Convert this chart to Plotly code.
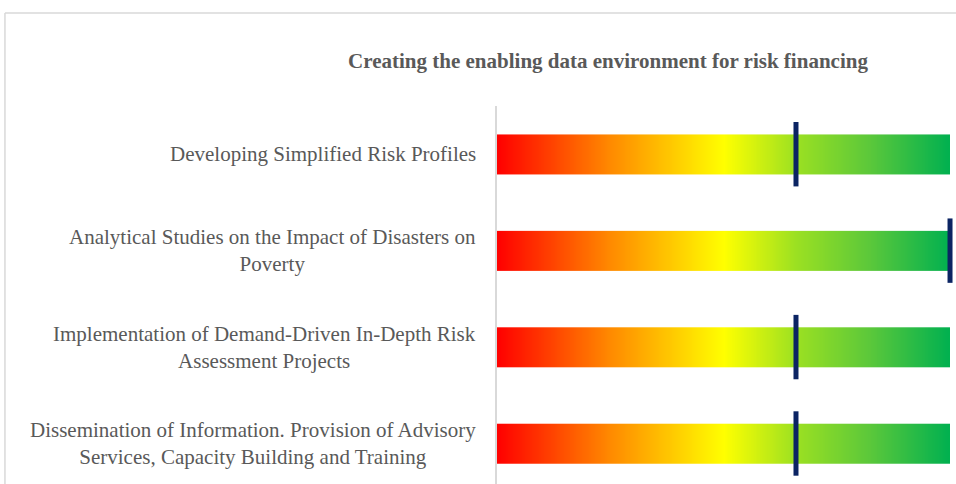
"""
Creating the enabling data environment for risk financing
Horizontal gradient bars (red -> yellow -> green) with a progress marker.
"""

import numpy as np
import plotly.graph_objects as go

# ============================================================================
# DATA
# ============================================================================

categories = [
    "Developing Simplified Risk Profiles",
    "Analytical Studies on the Impact of Disasters on<br>Poverty",
    "Implementation of Demand-Driven In-Depth Risk<br>Assessment Projects",
    "Dissemination of Information. Provision of Advisory<br>Services, Capacity Building and Training",
]
bar_max = [1.0, 1.0, 1.0, 1.0]
scores = [0.66, 1.0, 0.66, 0.66]

# ============================================================================
# STYLE
# ============================================================================

gradient = [
    [0.0, "#FF0000"],
    [0.25, "#FF8A00"],
    [0.5, "#FFFF00"],
    [0.66, "#9BE022"],
    [0.82, "#5CC83A"],
    [1.0, "#00B050"],
]
marker_color = "#0B2463"
text_color = "#595959"
frame_color = "#D9D9D9"
font_serif = "Liberation Serif, Times New Roman, serif"
bar_half = 0.205
n_steps = 120

fig = go.Figure()

# Gradient bars (one heatmap strip per category)
for i, (cat, vmax) in enumerate(zip(categories, bar_max)):
    x_edges = np.linspace(0, vmax, n_steps + 1)
    z_row = (x_edges[:-1] + x_edges[1:]) / 2 / vmax
    fig.add_trace(go.Heatmap(
        x=x_edges,
        y=[i - bar_half, i + bar_half],
        z=[z_row],
        colorscale=gradient,
        zmin=0, zmax=1,
        showscale=False,
        zsmooth="best",
        hoverinfo="skip",
    ))

# Score markers
fig.add_trace(go.Scatter(
    x=scores,
    y=list(range(len(categories))),
    mode="markers",
    marker=dict(symbol="line-ns", size=46, color=marker_color,
                line=dict(color=marker_color, width=5)),
    text=[c.replace("<br>", " ") for c in categories],
    hovertemplate="<b>%{text}</b><br>%{x:.0%}<extra></extra>",
    showlegend=False,
    cliponaxis=False,
))

# Category labels (centered multi-line, like Excel)
for i, cat in enumerate(categories):
    fig.add_annotation(
        text=cat, xref="paper", yref="y", x=0, y=i,
        xanchor="right", yanchor="middle", xshift=-19,
        align="center", showarrow=False,
        font=dict(family=font_serif, size=21, color=text_color),
    )

# Chart frame (top and left edges visible in the crop)
fig.add_shape(type="line", xref="paper", yref="paper",
              x0=-1.072, x1=1.02, y0=1.246, y1=1.246,
              line=dict(color=frame_color, width=1.5))
fig.add_shape(type="line", xref="paper", yref="paper",
              x0=-1.072, x1=-1.072, y0=-0.05, y1=1.246,
              line=dict(color=frame_color, width=1.5))

# ============================================================================
# LAYOUT
# ============================================================================

fig.update_layout(
    title=dict(
        text="<b>Creating the enabling data environment for risk financing</b>",
        font=dict(family=font_serif, size=21, color=text_color),
        xref="container", yref="container",
        x=608 / 956, y=1 - 61 / 484,
        xanchor="center", yanchor="middle",
    ),
    xaxis=dict(range=[0, 1.0132], visible=False, fixedrange=True),
    yaxis=dict(
        range=[3.42, -0.5],
        showticklabels=False, showgrid=False, zeroline=False,
        showline=True, linecolor=frame_color, linewidth=1.5,
        ticks="",
    ),
    plot_bgcolor="white",
    paper_bgcolor="white",
    width=956,
    height=484,
    margin=dict(l=497, r=0, t=106, b=0),
    showlegend=False,
)

fig.write_html(
    "out.html",
    config={"displayModeBar": False},
    post_script="document.body.style.margin='0';document.body.style.overflow='hidden';",
)
